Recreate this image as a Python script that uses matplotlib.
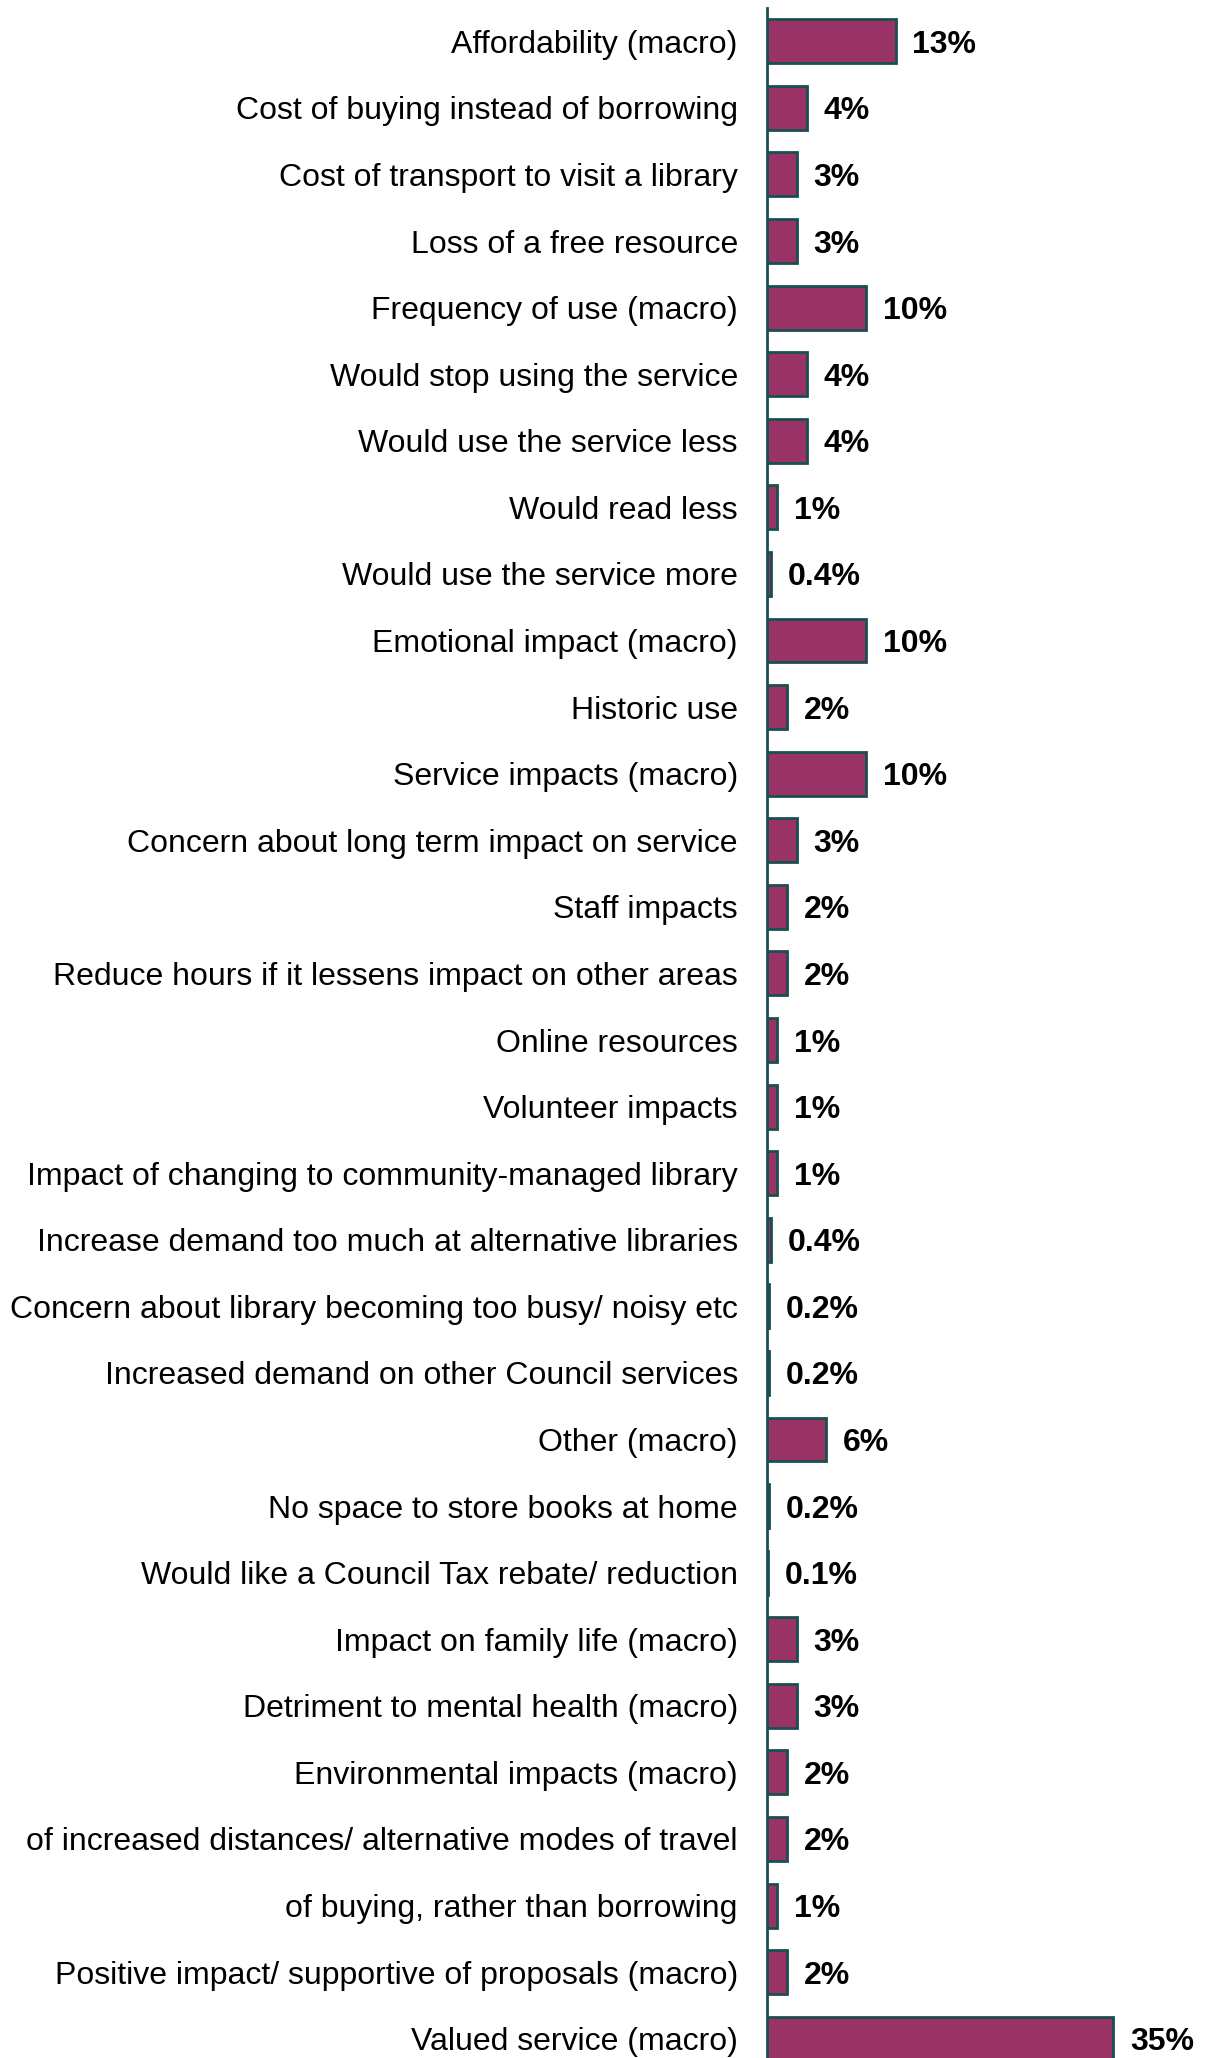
import matplotlib.pyplot as plt

categories = [
    "Affordability (macro)",
    "Cost of buying instead of borrowing",
    "Cost of transport to visit a library",
    "Loss of a free resource",
    "Frequency of use (macro)",
    "Would stop using the service",
    "Would use the service less",
    "Would read less",
    "Would use the service more",
    "Emotional impact (macro)",
    "Historic use",
    "Service impacts (macro)",
    "Concern about long term impact on service",
    "Staff impacts",
    "Reduce hours if it lessens impact on other areas",
    "Online resources",
    "Volunteer impacts",
    "Impact of changing to community-managed library",
    "Increase demand too much at alternative libraries",
    "Concern about library becoming too busy/ noisy etc",
    "Increased demand on other Council services",
    "Other (macro)",
    "No space to store books at home",
    "Would like a Council Tax rebate/ reduction",
    "Impact on family life (macro)",
    "Detriment to mental health (macro)",
    "Environmental impacts (macro)",
    "of increased distances/ alternative modes of travel",
    "of buying, rather than borrowing",
    "Positive impact/ supportive of proposals (macro)",
    "Valued service (macro)",
]
values = [13, 4, 3, 3, 10, 4, 4, 1, 0.4, 10, 2, 10, 3, 2, 2, 1, 1, 1, 0.4,
          0.2, 0.2, 6, 0.2, 0.1, 3, 3, 2, 2, 1, 2, 35]
value_labels = ["13%", "4%", "3%", "3%", "10%", "4%", "4%", "1%", "0.4%", "10%",
                "2%", "10%", "3%", "2%", "2%", "1%", "1%", "1%", "0.4%", "0.2%",
                "0.2%", "6%", "0.2%", "0.1%", "3%", "3%", "2%", "2%", "1%", "2%",
                "35%"]

plt.rcParams['font.family'] = ['Liberation Sans', 'DejaVu Sans']

W, H = 1205, 2058
fig = plt.figure(figsize=(W / 100, H / 100), dpi=100)
# axes extends slightly below the figure so the last bar is cut off
top_px, bot_px, left_px, right_px = 8, 2072, 767, 1163
ax = fig.add_axes([left_px / W, 1 - bot_px / H, (right_px - left_px) / W,
                   (bot_px - top_px) / H])

edge = "#1a4f50"
y = list(range(len(categories)))
ax.barh(y, values, height=0.66, color="#993366", edgecolor=edge, linewidth=2)

for yi, v, lab in zip(y, values, value_labels):
    ax.annotate(lab, (v, yi), xytext=(12, 0), textcoords="offset points",
                ha="left", va="center_baseline", fontsize=23, fontweight="bold",
                annotation_clip=False)

ax.set_xlim(0, 40)
ax.set_ylim(len(categories) - 0.5, -0.5)
ax.set_yticks(y)
ax.set_yticklabels(categories, fontsize=23)
ax.tick_params(axis="y", length=0, pad=21)
ax.set_xticks([])
for s in ["top", "right", "bottom"]:
    ax.spines[s].set_visible(False)
ax.spines["left"].set_color(edge)
ax.spines["left"].set_linewidth(2)

fig.savefig("out.png", dpi=100)
